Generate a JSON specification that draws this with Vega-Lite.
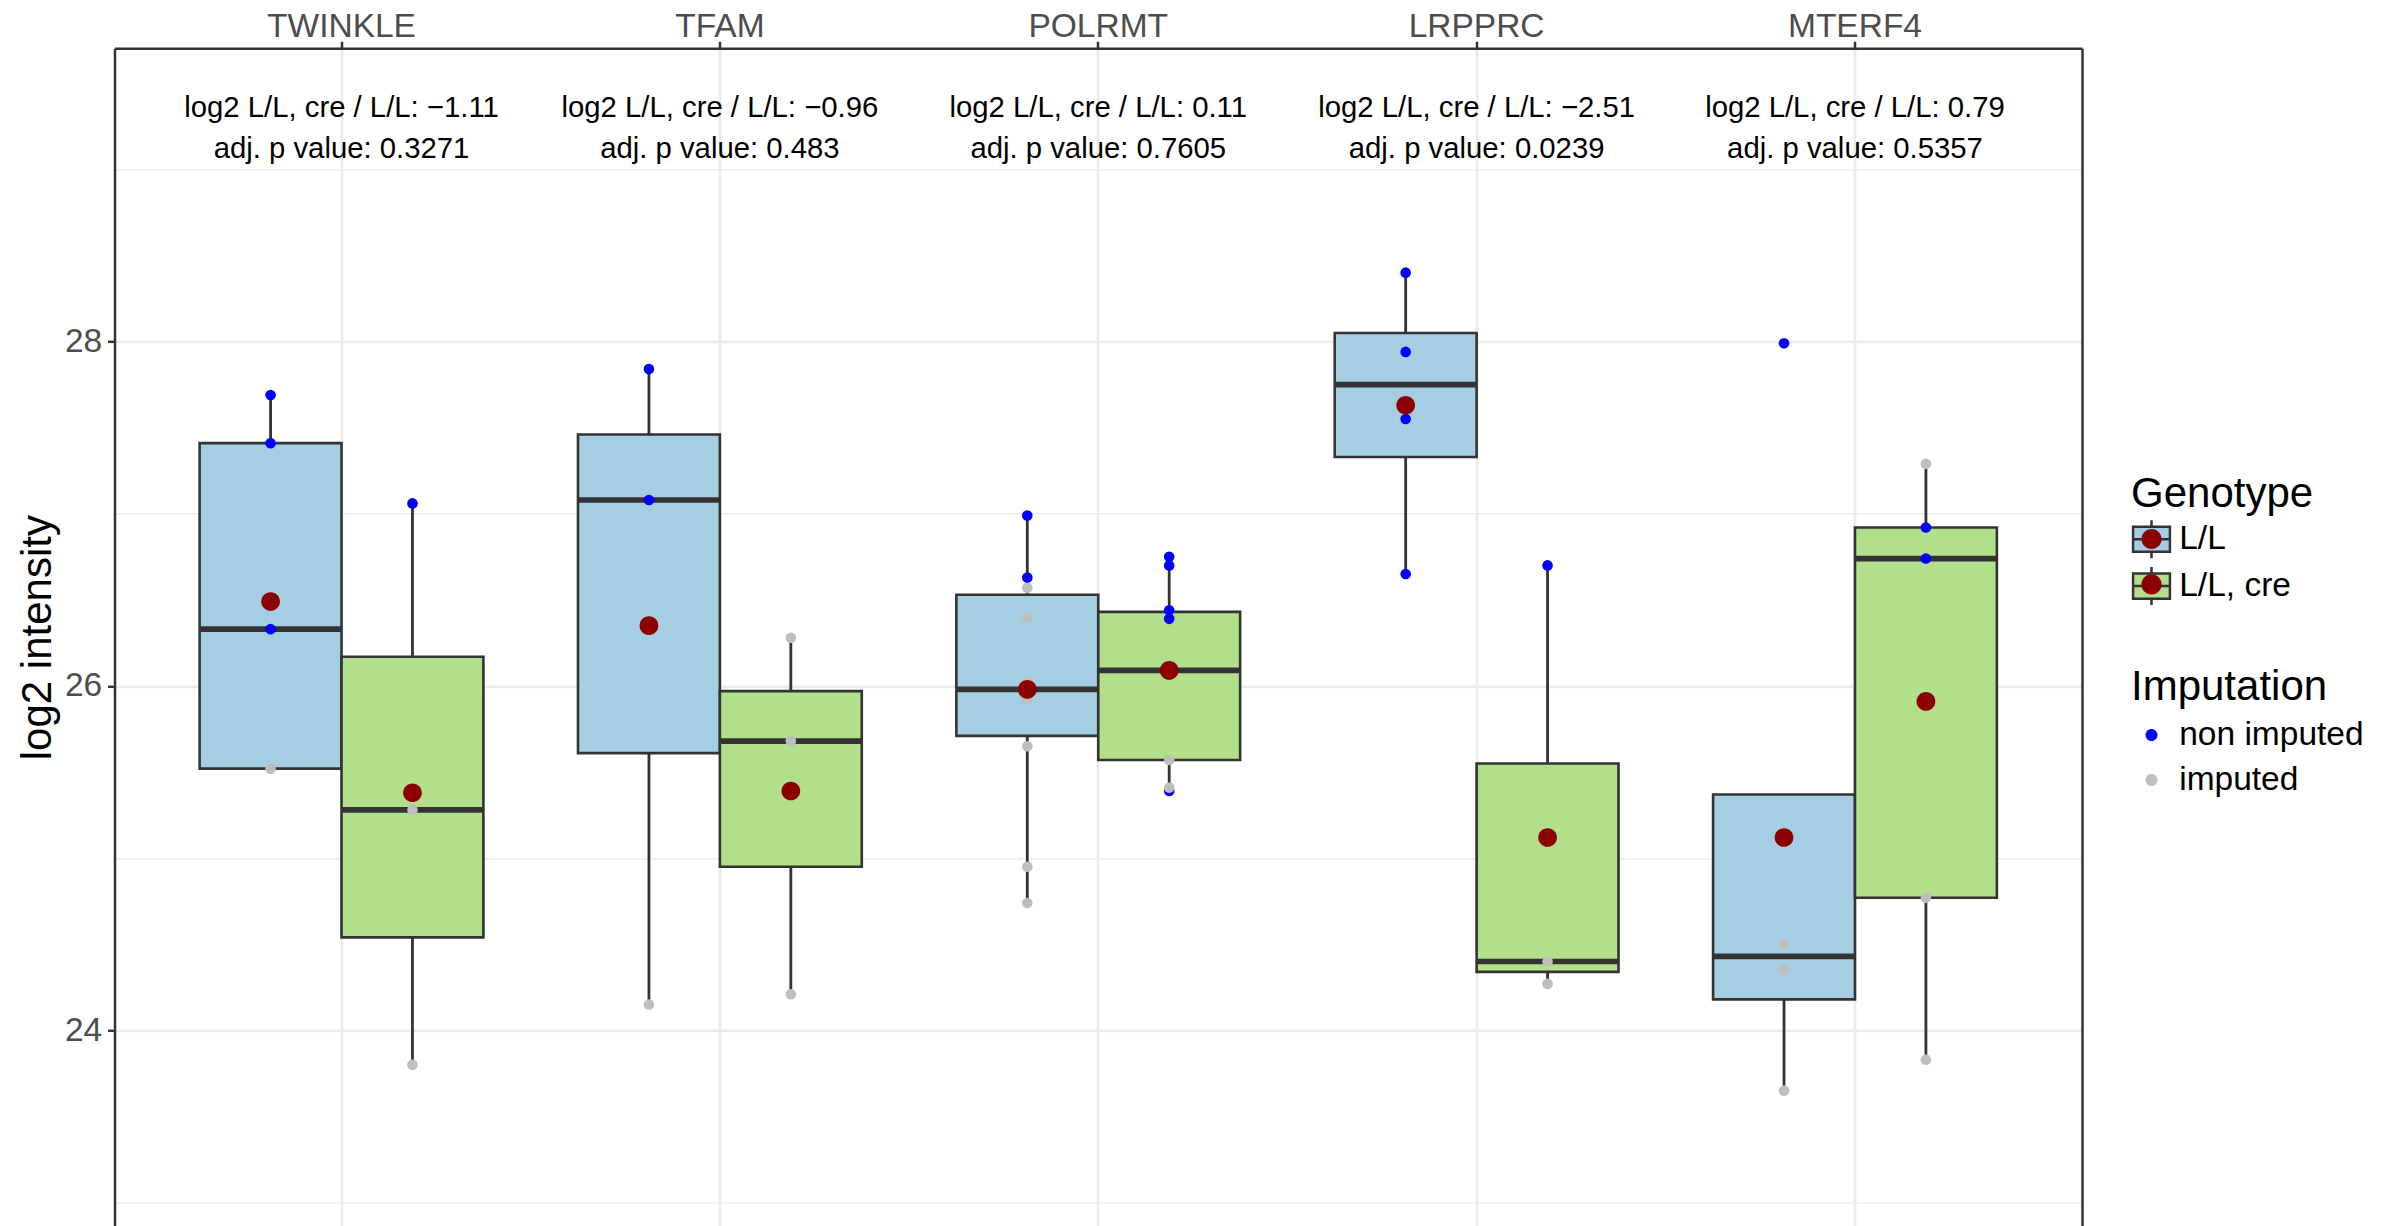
{
  "$schema": "https://vega.github.io/schema/vega-lite/v6.json",
  "width": 1967.5,
  "height": 1177.7,
  "autosize": "none",
  "padding": {"left": 114.5, "top": 48.3, "right": 302, "bottom": 0},
  "background": "white",
  "config": {
    "font": "Liberation Sans",
    "view": {"stroke": null}
  },
  "datasets": {
    "boxes": [
      {"gene": "TWINKLE", "Genotype": "L/L", "lower": 25.52, "q1": 25.52, "median": 26.33, "q3": 27.41, "upper": 27.69},
      {"gene": "TWINKLE", "Genotype": "L/L, cre", "lower": 23.80, "q1": 24.54, "median": 25.28, "q3": 26.17, "upper": 27.06},
      {"gene": "TFAM", "Genotype": "L/L", "lower": 24.15, "q1": 25.61, "median": 27.08, "q3": 27.46, "upper": 27.84},
      {"gene": "TFAM", "Genotype": "L/L, cre", "lower": 24.21, "q1": 24.95, "median": 25.68, "q3": 25.97, "upper": 26.28},
      {"gene": "POLRMT", "Genotype": "L/L", "lower": 24.74, "q1": 25.71, "median": 25.98, "q3": 26.53, "upper": 26.99},
      {"gene": "POLRMT", "Genotype": "L/L, cre", "lower": 25.40, "q1": 25.57, "median": 26.09, "q3": 26.43, "upper": 26.75},
      {"gene": "LRPPRC", "Genotype": "L/L", "lower": 26.65, "q1": 27.33, "median": 27.75, "q3": 28.05, "upper": 28.40},
      {"gene": "LRPPRC", "Genotype": "L/L, cre", "lower": 24.27, "q1": 24.34, "median": 24.40, "q3": 25.55, "upper": 26.70},
      {"gene": "MTERF4", "Genotype": "L/L", "lower": 23.65, "q1": 24.18, "median": 24.43, "q3": 25.37, "upper": 25.37},
      {"gene": "MTERF4", "Genotype": "L/L, cre", "lower": 23.83, "q1": 24.77, "median": 26.74, "q3": 26.92, "upper": 27.29}
    ],
    "means": [
      {"gene": "TWINKLE", "Genotype": "L/L", "mean": 26.49},
      {"gene": "TWINKLE", "Genotype": "L/L, cre", "mean": 25.38},
      {"gene": "TFAM", "Genotype": "L/L", "mean": 26.35},
      {"gene": "TFAM", "Genotype": "L/L, cre", "mean": 25.39},
      {"gene": "POLRMT", "Genotype": "L/L", "mean": 25.98},
      {"gene": "POLRMT", "Genotype": "L/L, cre", "mean": 26.09},
      {"gene": "LRPPRC", "Genotype": "L/L", "mean": 27.63},
      {"gene": "LRPPRC", "Genotype": "L/L, cre", "mean": 25.12},
      {"gene": "MTERF4", "Genotype": "L/L", "mean": 25.12},
      {"gene": "MTERF4", "Genotype": "L/L, cre", "mean": 25.91}
    ],
    "points": [
      {"gene": "TWINKLE", "Genotype": "L/L", "value": 27.69, "Imputation": "non imputed"},
      {"gene": "TWINKLE", "Genotype": "L/L", "value": 27.41, "Imputation": "non imputed"},
      {"gene": "TWINKLE", "Genotype": "L/L", "value": 26.33, "Imputation": "non imputed"},
      {"gene": "TWINKLE", "Genotype": "L/L", "value": 25.52, "Imputation": "imputed"},
      {"gene": "TWINKLE", "Genotype": "L/L, cre", "value": 27.06, "Imputation": "non imputed"},
      {"gene": "TWINKLE", "Genotype": "L/L, cre", "value": 25.28, "Imputation": "imputed"},
      {"gene": "TWINKLE", "Genotype": "L/L, cre", "value": 23.80, "Imputation": "imputed"},
      {"gene": "TFAM", "Genotype": "L/L", "value": 27.84, "Imputation": "non imputed"},
      {"gene": "TFAM", "Genotype": "L/L", "value": 27.08, "Imputation": "non imputed"},
      {"gene": "TFAM", "Genotype": "L/L", "value": 24.15, "Imputation": "imputed"},
      {"gene": "TFAM", "Genotype": "L/L, cre", "value": 26.28, "Imputation": "imputed"},
      {"gene": "TFAM", "Genotype": "L/L, cre", "value": 25.68, "Imputation": "imputed"},
      {"gene": "TFAM", "Genotype": "L/L, cre", "value": 24.21, "Imputation": "imputed"},
      {"gene": "POLRMT", "Genotype": "L/L", "value": 26.99, "Imputation": "non imputed"},
      {"gene": "POLRMT", "Genotype": "L/L", "value": 26.63, "Imputation": "non imputed"},
      {"gene": "POLRMT", "Genotype": "L/L", "value": 26.57, "Imputation": "imputed"},
      {"gene": "POLRMT", "Genotype": "L/L", "value": 26.40, "Imputation": "imputed"},
      {"gene": "POLRMT", "Genotype": "L/L", "value": 26.03, "Imputation": "imputed"},
      {"gene": "POLRMT", "Genotype": "L/L", "value": 25.92, "Imputation": "imputed"},
      {"gene": "POLRMT", "Genotype": "L/L", "value": 25.65, "Imputation": "imputed"},
      {"gene": "POLRMT", "Genotype": "L/L", "value": 24.95, "Imputation": "imputed"},
      {"gene": "POLRMT", "Genotype": "L/L", "value": 24.74, "Imputation": "imputed"},
      {"gene": "POLRMT", "Genotype": "L/L, cre", "value": 26.75, "Imputation": "non imputed"},
      {"gene": "POLRMT", "Genotype": "L/L, cre", "value": 26.70, "Imputation": "non imputed"},
      {"gene": "POLRMT", "Genotype": "L/L, cre", "value": 26.44, "Imputation": "non imputed"},
      {"gene": "POLRMT", "Genotype": "L/L, cre", "value": 26.39, "Imputation": "non imputed"},
      {"gene": "POLRMT", "Genotype": "L/L, cre", "value": 25.39, "Imputation": "non imputed"},
      {"gene": "POLRMT", "Genotype": "L/L, cre", "value": 25.57, "Imputation": "imputed"},
      {"gene": "POLRMT", "Genotype": "L/L, cre", "value": 25.41, "Imputation": "imputed"},
      {"gene": "LRPPRC", "Genotype": "L/L", "value": 28.40, "Imputation": "non imputed"},
      {"gene": "LRPPRC", "Genotype": "L/L", "value": 27.94, "Imputation": "non imputed"},
      {"gene": "LRPPRC", "Genotype": "L/L", "value": 27.55, "Imputation": "non imputed"},
      {"gene": "LRPPRC", "Genotype": "L/L", "value": 26.65, "Imputation": "non imputed"},
      {"gene": "LRPPRC", "Genotype": "L/L, cre", "value": 26.70, "Imputation": "non imputed"},
      {"gene": "LRPPRC", "Genotype": "L/L, cre", "value": 24.40, "Imputation": "imputed"},
      {"gene": "LRPPRC", "Genotype": "L/L, cre", "value": 24.27, "Imputation": "imputed"},
      {"gene": "MTERF4", "Genotype": "L/L", "value": 27.99, "Imputation": "non imputed"},
      {"gene": "MTERF4", "Genotype": "L/L", "value": 24.50, "Imputation": "imputed"},
      {"gene": "MTERF4", "Genotype": "L/L", "value": 24.35, "Imputation": "imputed"},
      {"gene": "MTERF4", "Genotype": "L/L", "value": 23.65, "Imputation": "imputed"},
      {"gene": "MTERF4", "Genotype": "L/L, cre", "value": 26.92, "Imputation": "non imputed"},
      {"gene": "MTERF4", "Genotype": "L/L, cre", "value": 26.74, "Imputation": "non imputed"},
      {"gene": "MTERF4", "Genotype": "L/L, cre", "value": 27.29, "Imputation": "imputed"},
      {"gene": "MTERF4", "Genotype": "L/L, cre", "value": 24.77, "Imputation": "imputed"},
      {"gene": "MTERF4", "Genotype": "L/L, cre", "value": 23.83, "Imputation": "imputed"}
    ],
    "stats": [
      {"gene": "TWINKLE", "line1": "log2 L/L, cre / L/L: −1.11", "line2": "adj. p value: 0.3271"},
      {"gene": "TFAM", "line1": "log2 L/L, cre / L/L: −0.96", "line2": "adj. p value: 0.483"},
      {"gene": "POLRMT", "line1": "log2 L/L, cre / L/L: 0.11", "line2": "adj. p value: 0.7605"},
      {"gene": "LRPPRC", "line1": "log2 L/L, cre / L/L: −2.51", "line2": "adj. p value: 0.0239"},
      {"gene": "MTERF4", "line1": "log2 L/L, cre / L/L: 0.79", "line2": "adj. p value: 0.5357"}
    ]
  },
  "encoding": {
    "x": {
      "field": "gene",
      "type": "nominal",
      "scale": {"domain": ["TWINKLE", "TFAM", "POLRMT", "LRPPRC", "MTERF4"], "paddingInner": 0, "paddingOuter": 0.1},
      "axis": {
        "orient": "top",
        "title": null,
        "domain": true,
        "domainColor": "#333333",
        "domainWidth": 2.5,
        "ticks": true,
        "tickColor": "#333333",
        "tickSize": 7,
        "tickWidth": 2.5,
        "bandPosition": 0.5,
        "grid": true,
        "gridColor": "#ebebeb",
        "gridWidth": 2.7,
        "labelFont": "Liberation Sans",
        "labelFontSize": 33.5,
        "labelColor": "#4d4d4d",
        "labelPadding": 5.3,
        "labelBaseline": "alphabetic",
        "labelAngle": 0
      }
    }
  },
  "layer": [
    {
      "encoding": {
        "xOffset": {"field": "Genotype", "type": "nominal", "scale": {"domain": ["L/L", "L/L, cre"], "paddingInner": 0, "paddingOuter": 0.3333}}
      },
      "layer": [
        {
          "data": {"name": "boxes"},
          "mark": {"type": "rule", "stroke": "#333333", "strokeWidth": 2.8},
          "encoding": {
            "y": {
              "field": "lower",
              "type": "quantitative",
              "title": "log2 intensity",
              "scale": {"domain": [22.864, 29.703], "nice": false, "zero": false},
              "axis": {
                "values": [23, 24, 25, 26, 27, 28, 29],
                "format": "d",
                "labelExpr": "datum.value % 2 === 0 ? datum.label : ''",
                "tickOpacity": {"condition": {"test": "datum.value % 2 === 0", "value": 1}, "value": 0},
                "gridWidth": {"condition": {"test": "datum.value % 2 === 0", "value": 2.7}, "value": 1.35},
                "grid": true,
                "gridColor": "#ebebeb",
                "domain": true,
                "domainColor": "#333333",
                "domainWidth": 2.5,
                "ticks": true,
                "tickColor": "#333333",
                "tickSize": 7,
                "tickWidth": 2.5,
                "labelFont": "Liberation Sans",
                "labelFontSize": 33.5,
                "labelColor": "#4d4d4d",
                "labelPadding": 5.8,
                "titleFont": "Liberation Sans",
                "titleFontSize": 42,
                "titleFontWeight": "normal",
                "titleColor": "#000000",
                "titleAngle": 270,
                "titleBaseline": "alphabetic",
                "titleX": -64.5
              }
            },
            "y2": {"field": "upper"}
          }
        },
        {
          "data": {"name": "boxes"},
          "mark": {"type": "bar", "stroke": "#333333", "strokeWidth": 2.6},
          "encoding": {
            "y": {"field": "q1", "type": "quantitative", "title": "log2 intensity"},
            "y2": {"field": "q3"},
            "fill": {
              "field": "Genotype",
              "type": "nominal",
              "scale": {"domain": ["L/L", "L/L, cre"], "range": ["#a6cee3", "#b2df8a"]},
              "legend": {
                "orient": "none",
                "legendX": 2016.5,
                "legendY": 425.4,
                "padding": 0,
                "title": "Genotype",
                "titleFont": "Liberation Sans",
                "titleFontSize": 42,
                "titleFontWeight": "normal",
                "titleColor": "#000000",
                "titlePadding": 3,
                "titleLimit": 1000,
                "labelFont": "Liberation Sans",
                "labelFontSize": 33.5,
                "labelColor": "#000000",
                "labelOffset": 7.2,
                "labelLimit": 1000,
                "symbolType": "M-0.97,-0.66H0.97V0.66H-0.97Z M0,-1V-0.66 M0,0.66V1 M-0.97,0H0.97",
                "symbolSize": 1444,
                "symbolStrokeColor": "#333333",
                "symbolStrokeWidth": 2.5,
                "symbolOpacity": 1,
                "rowPadding": -2.1
              }
            }
          }
        },
        {
          "data": {"name": "boxes"},
          "mark": {"type": "tick", "orient": "horizontal", "color": "#333333", "thickness": 5.7, "size": 142, "opacity": 1},
          "encoding": {
            "y": {"field": "median", "type": "quantitative", "title": "log2 intensity"}
          }
        },
        {
          "data": {"name": "points"},
          "mark": {"type": "circle", "size": 113, "opacity": 1},
          "encoding": {
            "y": {"field": "value", "type": "quantitative", "title": "log2 intensity"},
            "color": {
              "field": "Imputation",
              "type": "nominal",
              "scale": {"domain": ["non imputed", "imputed"], "range": ["#0000ff", "#bebebe"]},
              "legend": {
                "orient": "none",
                "legendX": 2016.5,
                "legendY": 618.7,
                "padding": 0,
                "title": "Imputation",
                "titleFont": "Liberation Sans",
                "titleFontSize": 42,
                "titleFontWeight": "normal",
                "titleColor": "#000000",
                "titlePadding": 5.5,
                "titleLimit": 1000,
                "labelFont": "Liberation Sans",
                "labelFontSize": 33.5,
                "labelColor": "#000000",
                "labelOffset": 7.2,
                "labelLimit": 1000,
                "symbolType": "M0.316,0A0.316,0.316,0,1,1,-0.316,0A0.316,0.316,0,1,1,0.316,0Z",
                "symbolSize": 1444,
                "symbolStrokeColor": "transparent",
                "symbolStrokeWidth": 2.5,
                "symbolOpacity": 1,
                "rowPadding": 8
              }
            }
          }
        },
        {
          "data": {"name": "means"},
          "mark": {"type": "point", "filled": true, "size": 1245, "color": "#8b0000", "opacity": 1},
          "encoding": {
            "y": {"field": "mean", "type": "quantitative", "title": "log2 intensity"},
            "shape": {
              "field": "Genotype",
              "type": "nominal",
              "scale": {"range": ["M0.53,0A0.53,0.53,0,1,1,-0.53,0A0.53,0.53,0,1,1,0.53,0Z", "M0.53,0A0.53,0.53,0,1,1,-0.53,0A0.53,0.53,0,1,1,0.53,0Z"]},
              "legend": {
                "orient": "none",
                "legendX": 2016.5,
                "legendY": 470.2,
                "padding": 0,
                "title": null,
                "labelExpr": "''",
                "labelFontSize": 33.5,
                "labelOffset": 7.2,
                "symbolSize": 1444,
                "symbolFillColor": "#8b0000",
                "symbolStrokeColor": "transparent",
                "symbolStrokeWidth": 2.5,
                "symbolOpacity": 1,
                "rowPadding": 8.4
              }
            }
          }
        }
      ]
    },
    {
      "data": {"name": "stats"},
      "layer": [
        {
          "mark": {"type": "text", "fontSize": 29.3, "baseline": "alphabetic", "align": "center", "color": "#000000"},
          "encoding": {
            "text": {"field": "line1"},
            "y": {"datum": 29.306, "type": "quantitative", "axis": {"orient": "right", "title": null, "domain": true, "domainColor": "#333333", "domainWidth": 2.5, "ticks": false, "labels": false, "grid": false}}
          }
        },
        {
          "mark": {"type": "text", "fontSize": 29.3, "baseline": "alphabetic", "align": "center", "color": "#000000"},
          "encoding": {
            "text": {"field": "line2"},
            "y": {"datum": 29.064, "type": "quantitative"}
          }
        }
      ]
    }
  ],
  "resolve": {"axis": {"y": "independent"}}
}
